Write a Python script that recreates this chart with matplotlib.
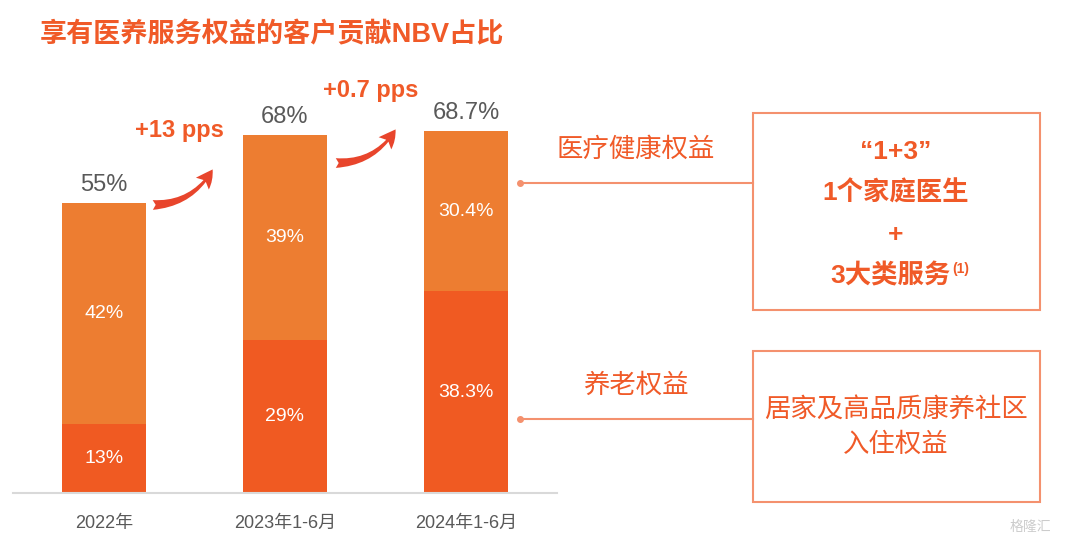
import matplotlib
matplotlib.use("Agg")
import matplotlib.pyplot as plt
from matplotlib.patches import FancyArrowPatch, Rectangle

plt.rcParams['font.family'] = ['Liberation Sans', 'Noto Sans CJK SC', 'DejaVu Sans']

# data
periods = ['2022年', '2023年1-6月', '2024年1-6月']
elderly = [13, 29, 38.3]          # 养老权益 (bottom)
health = [42, 39, 30.4]           # 医疗健康权益 (top)
totals = [55, 68, 68.7]
elderly_lbl = ['13%', '29%', '38.3%']
health_lbl = ['42%', '39%', '30.4%']
total_lbl = ['55%', '68%', '68.7%']
changes = ['+13 pps', '+0.7 pps']

C_TOP = '#ED7D31'
C_BOT = '#F05A22'
C_RED = '#F05A28'
C_LINE = '#F4916E'
C_GRAY = '#595959'

W, H = 1081, 545
fig = plt.figure(figsize=(W / 100, H / 100), dpi=100)

# bar axes: x from 13px to 557px, baseline at 493px
ax = fig.add_axes([13 / W, 52 / H, 544 / W, 448 / H])
x = range(len(periods))
ax.bar(x, elderly, width=0.46, color=C_BOT)
ax.bar(x, health, width=0.46, bottom=elderly, color=C_TOP)
ax.set_xlim(-0.503, 2.503)
ax.set_ylim(0, 85)
for s in ['top', 'right', 'left']:
    ax.spines[s].set_visible(False)
ax.spines['bottom'].set_color('#D9D9D9')
ax.spines['bottom'].set_linewidth(1.5)
ax.set_yticks([])
ax.set_xticks(list(x))
ax.set_xticklabels(periods, fontsize=13, color=C_GRAY)
ax.tick_params(axis='x', length=0, pad=16)

for i in x:
    ax.text(i, elderly[i] / 2, elderly_lbl[i], ha='center', va='center',
            color='white', fontsize=14)
    ax.text(i, elderly[i] + health[i] / 2, health_lbl[i], ha='center', va='center',
            color='white', fontsize=14)
    ax.annotate(total_lbl[i], (i, totals[i]), xytext=(0, 5), textcoords='offset points',
                ha='center', va='bottom', color=C_GRAY, fontsize=17)

# overlay in pixel coords for decorations
ov = fig.add_axes([0, 0, 1, 1])
ov.set_xlim(0, W)
ov.set_ylim(H, 0)
ov.axis('off')
ov.patch.set_alpha(0)

ov.text(40, 35, '享有医养服务权益的客户贡献NBV占比', fontsize=19.5, fontweight='bold',
        color=C_RED, ha='left', va='center')

# change arrows
ov.text(135, 131, changes[0], fontsize=17, fontweight='bold', color=C_RED, ha='left', va='center')
ov.text(323, 91, changes[1], fontsize=17, fontweight='bold', color=C_RED, ha='left', va='center')
for (x0, y0, x1, y1) in [(150, 205, 214, 167), (333, 163, 397, 127)]:
    ov.add_patch(FancyArrowPatch((x0, y0), (x1, y1), connectionstyle='arc3,rad=0.3',
                                 arrowstyle='fancy,head_length=0.9,head_width=0.9,tail_width=0.5',
                                 mutation_scale=14, color='#E8452C', lw=0))

# connectors
for yy, lab in [(183, '医疗健康权益'), (419, '养老权益')]:
    ov.plot([520, 753], [yy, yy], color=C_LINE, lw=1.5)
    ov.plot(520, yy, 'o', color=C_LINE, ms=4)
    ov.text(636, yy - 33, lab, fontsize=19, color=C_RED, ha='center', va='center')

# boxes
ov.add_patch(Rectangle((753, 113), 287, 197, fill=False, ec=C_LINE, lw=1.5))
ov.add_patch(Rectangle((753, 351), 287, 151, fill=False, ec=C_LINE, lw=1.5))

bx = 896
ov.text(bx, 152, '\u201c1+3\u201d', fontsize=19, fontweight='bold', color=C_RED, ha='center', va='center')
ov.text(bx, 193, '1个家庭医生', fontsize=19, fontweight='bold', color=C_RED, ha='center', va='center')
ov.text(bx, 235, '+', fontsize=19, fontweight='bold', color=C_RED, ha='center', va='center')
ov.text(bx - 6, 276, '3大类服务', fontsize=19, fontweight='bold', color=C_RED, ha='center', va='center')
ov.text(bx + 56, 269, '(1)', fontsize=10, fontweight='bold', color=C_RED, ha='left', va='center')
ov.text(bx, 410, '居家及高品质康养社区', fontsize=19, color=C_RED, ha='center', va='center')
ov.text(bx, 445, '入住权益', fontsize=19, color=C_RED, ha='center', va='center')

# watermark
ov.text(1030, 527, '格隆汇', fontsize=10, color='#CCCCCC', ha='center', va='center')

fig.savefig('out.png', dpi=100)
